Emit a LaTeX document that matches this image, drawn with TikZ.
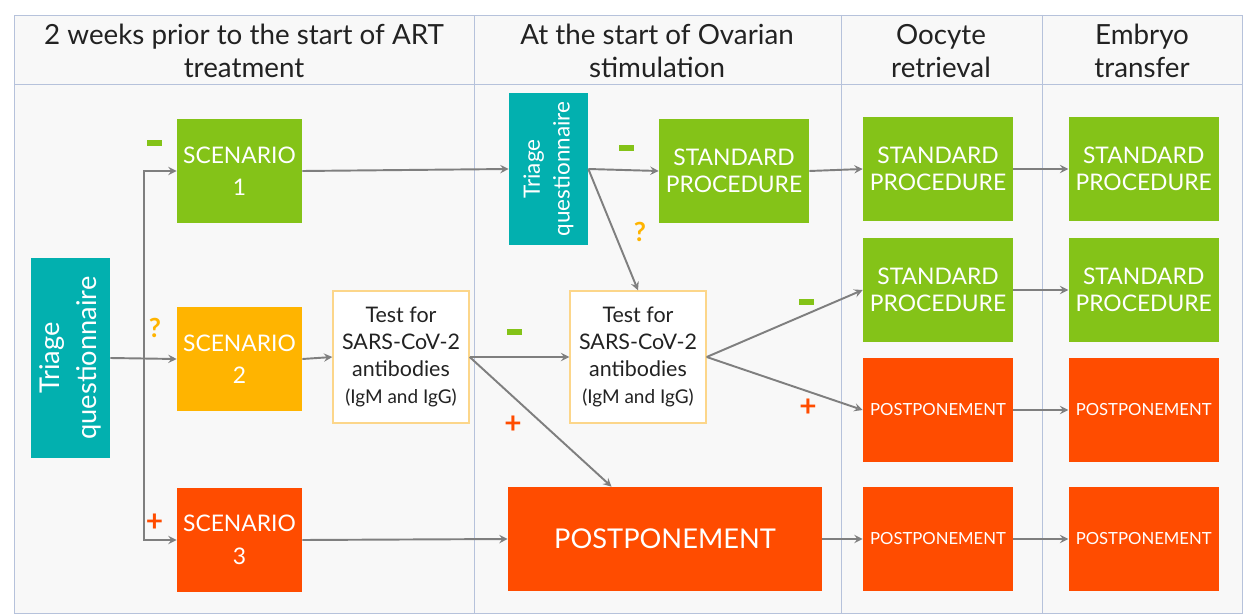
\documentclass[tikz,border=0pt]{standalone}
\usepackage{fontspec}
\setmainfont{Lato}
\usetikzlibrary{positioning,calc}
\definecolor{tealbox}{HTML}{02B0AF}
\definecolor{greenbox}{HTML}{84C318}
\definecolor{amberbox}{HTML}{FFB400}
\definecolor{redbox}{HTML}{FF4C00}
\definecolor{gridline}{HTML}{B6C2DB}
\definecolor{tablebg}{HTML}{F8F8F8}
\definecolor{arrowgray}{HTML}{7F7F7F}
\definecolor{testborder}{HTML}{FCD68A}
\definecolor{darktext}{HTML}{222222}
\newcommand{\antibodytest}{Test for\\SARS-CoV-2\\antibodies\\{\fontsize{10.8}{15.3}\selectfont(IgM and IgG)}}
\begin{document}
\begin{tikzpicture}[x=0.02cm, y=-0.02cm]

        \tikzstyle{box} = [rectangle, minimum width=3cm, minimum height=2.08cm, inner sep=0pt, text centered, align=center, text=white, draw=none]
        \tikzstyle{scenario} = [box, minimum width=2.5cm, minimum height=2.1cm, font=\fontsize{13}{18.5}\selectfont]
        \tikzstyle{standard} = [box, fill=greenbox, font=\fontsize{13}{15.5}\selectfont]
        \tikzstyle{postpone} = [box, fill=redbox, font=\fontsize{9.5}{12}\selectfont]
        \tikzstyle{triage} = [box, rotate=90, fill=tealbox, minimum height=1.58cm]
        \tikzstyle{test} = [rectangle, minimum width=2.72cm, minimum height=2.64cm, inner sep=0pt, text centered, align=center, text=darktext, draw=testborder, line width=0.8pt, fill=white, font=\fontsize{12.2}{15.3}\selectfont]
        \tikzstyle{title} = [text centered, align=center, text=darktext, font=\fontsize{15.8}{18.8}\selectfont]
        \tikzstyle{arrow} = [draw=arrowgray, line width=1.1pt, ->, >=stealth]
        \tikzstyle{minus} = [rectangle, fill=greenbox, minimum width=0.3cm, minimum height=0.12cm, inner sep=0pt]
        \tikzstyle{plus} = [text=redbox, inner sep=0pt, font=\fontsize{17}{17}\bfseries\selectfont]
        \tikzstyle{query} = [text=amberbox, inner sep=0pt, font=\fontsize{15}{15}\bfseries\selectfont]

        \useasboundingbox (0,0) rectangle (1247,615);
        \fill[white] (0,0) rectangle (1247,615);

        % Table
        \filldraw[fill=tablebg, draw=gridline] (14,15) rectangle (1242,613);
        \draw[gridline] (14,84) -- (1242,84);
        \foreach \x in {474,841,1042}
            \draw[gridline] (\x,15) -- (\x,613);

        \node (hA) [title] at (244,51) {2 weeks prior to the start of ART\\treatment};
        \node (hB) [title] at (657,51) {At the start of Ovarian\\stimulation};
        \node (hC) [title] at (941,51) {Oocyte\\retrieval};
        \node (hD) [title] at (1142,51) {Embryo\\transfer};

        % First column
        \node (triageA) [triage, minimum width=4cm, font=\fontsize{15.5}{21}\selectfont] at (70.5,358) {Triage\\questionnaire};
        \node (sc1) [scenario, fill=greenbox] at (239.5,171) {SCENARIO\\1};
        \node (sc2) [scenario, fill=amberbox] at (239.5,359) {SCENARIO\\2};
        \node (sc3) [scenario, fill=redbox] at (239.5,540) {SCENARIO\\3};
        \node (testA) [test] at (401,357) {\antibodytest};
        \coordinate (branch) at (144,358);

        % Second column
        \node (triageB) [triage, minimum width=3.04cm, font=\fontsize{12.8}{17}\selectfont] at (548.5,169) {Triage\\questionnaire};
        \node (stdB) [standard] at (734,171) {STANDARD\\PROCEDURE};
        \node (testB) [test] at (638,357) {\antibodytest};
        \node (postB) [box, fill=redbox, minimum width=6.28cm, font=\fontsize{15.5}{18}\selectfont] at (665,539) {POSTPONEMENT};

        % Third and fourth columns
        \node (stdC1) [standard] at (938,169) {STANDARD\\PROCEDURE};
        \node (stdC2) [standard] at (938,290) {STANDARD\\PROCEDURE};
        \node (postC1) [postpone] at (938,410) {POSTPONEMENT};
        \node (postC2) [postpone] at (938,539) {POSTPONEMENT};
        \node (stdD1) [standard, right=1.1cm of stdC1] {STANDARD\\PROCEDURE};
        \node (stdD2) [standard, right=1.1cm of stdC2] {STANDARD\\PROCEDURE};
        \node (postD1) [postpone, right=1.1cm of postC1] {POSTPONEMENT};
        \node (postD2) [postpone, right=1.1cm of postC2] {POSTPONEMENT};

        % Signs
        \node (m1) [minus] at (154,143) {};
        \node (q1) [query] at (155,328) {?};
        \node (p1) [plus] at (154.5,523) {+};
        \node (m2) [minus] at (626,148) {};
        \node (q2) [query] at (640,232) {?};
        \node (m3) [minus] at (514,332) {};
        \node (p3) [plus] at (513,425) {+};
        \node (m4) [minus] at (806,302) {};
        \node (p4) [plus] at (808,408) {+};

        % Arrows
        \draw [arrow](triageA.south) -- (sc2.west);
        \draw [arrow](branch) |- (sc1.west);
        \draw [arrow](branch) |- (sc3.west);
        \draw [arrow](sc1.east) -- (triageB.north);
        \draw [arrow](sc2.east) -- (testA.west);
        \draw [arrow](sc3.east) -- (postB.west);
        \draw [arrow](triageB.south) -- (stdB.west);
        \draw [arrow](triageB.south) -- (testB.north);
        \draw [arrow](testA.east) -- (testB.west);
        \draw [arrow](testA.east) -- ($(postB.north west)!0.33!(postB.north east)$);
        \draw [arrow](testB.east) -- (stdC2.west);
        \draw [arrow](testB.east) -- (postC1.west);
        \draw [arrow](stdB.east) -- (stdC1.west);
        \draw [arrow](postB.east) -- (postC2.west);
        \draw [arrow](stdC1) -- (stdD1);
        \draw [arrow](stdC2) -- (stdD2);
        \draw [arrow](postC1) -- (postD1);
        \draw [arrow](postC2) -- (postD2);

    \end{tikzpicture}
\end{document}
